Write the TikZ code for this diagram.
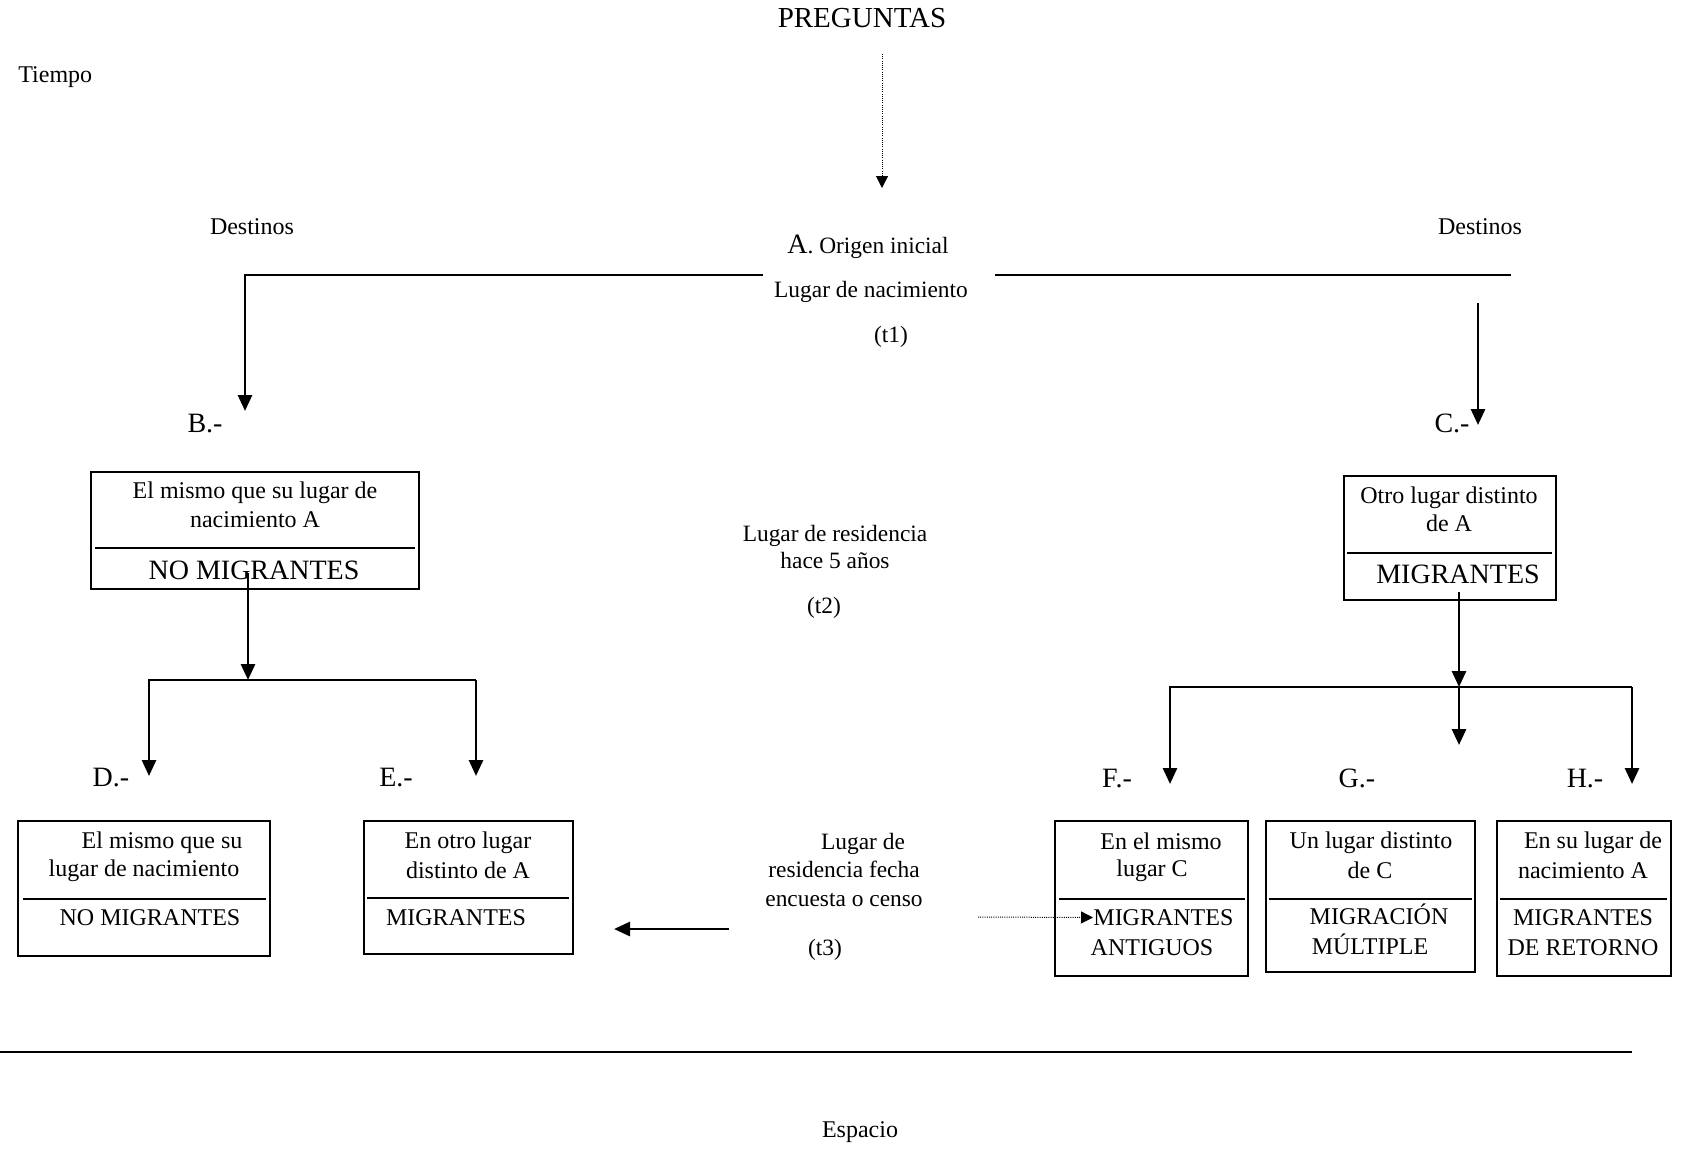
\documentclass[tikz,border=0pt]{standalone}
\usepackage{fontspec}
\setmainfont{Liberation Serif}
\usetikzlibrary{arrows.meta,fit}
\begin{document}
\begin{tikzpicture}[x=0.5pt,y=-0.5pt,
  t/.style={inner sep=0pt,yshift=-0.75pt,font=\fontsize{12}{13.8}\selectfont},
  tc/.style={inner sep=0pt,yshift=-0.75pt,font=\fontsize{11.7}{13.5}\selectfont},
  tb/.style={inner sep=0pt,yshift=-0.75pt,font=\fontsize{14}{16}\selectfont},
  boxst/.style={draw,line width=0.8pt,inner sep=0pt},
  divider/.style={line width=0.9pt},
  conn/.style={line width=1.4pt},
  arr/.style={conn,-{Triangle[length=8pt,width=7pt]}},
  dotarr/.style={line width=0.5pt,dash pattern=on 0.5pt off 0.6pt,-{Triangle[length=6pt,width=6pt]}}]
\useasboundingbox (0,0) rectangle (1685,1148);

% top labels
\node[inner sep=0pt,font=\fontsize{14.5}{16}\selectfont] (preg) at (862,18) {PREGUNTAS};
\node[t,anchor=west] (tiempo) at (18,76) {Tiempo};
\node[t] (destL) at (252,225) {Destinos};
\node[t] (destR) at (1480,225) {Destinos};
\node[tc] (origen) at (868,245) {{\fontsize{14}{16}\selectfont A}. Origen inicial};
\node[tc] (nacim) at (871,290) {Lugar de nacimiento};
\node[tc] (t1) at (891,335) {(t1)};

\coordinate (pregTop) at (882,54);
\coordinate (pregTip) at (882,188);
\draw[dotarr] (pregTop) -- (pregTip);

% level B / C
\node[tb] (labB) at (205,422) {B.-};
\node[tb] (labC) at (1452,422) {C.-};

\coordinate (Lend) at (763,275);
\coordinate (Lcorner) at (245,275);
\coordinate (Btip) at (245,411);
\draw[arr] (Lend) -- (Lcorner) -- (Btip);
\coordinate (Rstart) at (995,275);
\coordinate (Rend) at (1511,275);
\draw[conn] (Rstart) -- (Rend);
\coordinate (Ctop) at (1478,303);
\coordinate (Ctip) at (1478,425);
\draw[arr] (Ctop) -- (Ctip);

% box B
\node[boxst,fit={(91,472) (419,589)}] (boxB) {};
\draw[divider] (95,548) -- (415,548);
\node[t] (b1) at (255,491) {El mismo que su lugar de};
\node[t] (b2) at (255,518) {nacimiento A};
\node[tb] (b3) at (254,569) {NO MIGRANTES};

% box C
\node[boxst,fit={(1344,476) (1556,600)}] (boxC) {};
\draw[divider] (1347,553) -- (1552,553);
\node[t] (c1) at (1449,496) {Otro lugar distinto};
\node[t] (c2) at (1449,522) {de A};
\node[tb] (c3) at (1458,573) {MIGRANTES};

% middle labels
\node[tc] (res1) at (835,534) {Lugar de residencia};
\node[tc] (res2) at (835,559) {hace 5 años};
\node[tc] (t2) at (824,606) {(t2)};

% branches from B
\coordinate (Bsrc) at (248,573);
\coordinate (Bjoin) at (248,680);
\coordinate (Dcorner) at (149,680);
\coordinate (Ecorner) at (476,680);
\coordinate (Dtip) at (149,776);
\coordinate (Etip) at (476,776);
\draw[arr] (Bsrc) -- (Bjoin);
\draw[arr] (Ecorner) -- (Dcorner) -- (Dtip);
\draw[arr] (Ecorner) -- (Etip);

% branches from C
\coordinate (Csrc) at (1459,592);
\coordinate (Cjoin) at (1459,687);
\coordinate (Fcorner) at (1170,687);
\coordinate (Hcorner) at (1632,687);
\coordinate (Gtip) at (1459,745);
\coordinate (Ftip) at (1170,784);
\coordinate (Htip) at (1632,784);
\draw[arr] (Csrc) -- (Cjoin);
\draw[arr] (Hcorner) -- (Fcorner) -- (Ftip);
\draw[arr] (Hcorner) -- (Htip);
\draw[arr] (Cjoin) -- (Gtip);

% level labels
\node[tb] (labD) at (111,776) {D.-};
\node[tb] (labE) at (396,776) {E.-};
\node[tb] (labF) at (1117,777) {F.-};
\node[tb] (labG) at (1357,777) {G.-};
\node[tb] (labH) at (1585,777) {H.-};

% box D
\node[boxst,fit={(18,821) (270,956)}] (boxD) {};
\draw[divider] (23,899) -- (266,899);
\node[t] (d1) at (162,841) {El mismo que su};
\node[t] (d2) at (144,869) {lugar de nacimiento};
\node[t] (d3) at (150,916) {NO MIGRANTES};

% box E
\node[boxst,fit={(364,821) (573,954)}] (boxE) {};
\draw[divider] (367,898) -- (569,898);
\node[t] (e1) at (468,841) {En otro lugar};
\node[t] (e2) at (468,869) {distinto de A};
\node[t] (e3) at (456,916) {MIGRANTES};

% middle bottom labels
\node[tc] (f1m) at (863,842) {Lugar de};
\node[tc] (f2m) at (844,868) {residencia fecha};
\node[tc] (f3m) at (844,899) {encuesta o censo};
\node[tc] (t3) at (825,948) {(t3)};

\coordinate (LAstart) at (729,929);
\coordinate (LAtip) at (614,929);
\draw[arr] (LAstart) -- (LAtip);

% box F
\node[boxst,fit={(1055,821) (1248,976)}] (boxF) {};
\draw[divider] (1059,899) -- (1245,899);
\node[t] (fa) at (1161,840) {En el mismo};
\node[t] (fb) at (1152,869) {lugar C};
\node[t,anchor=west] (fc) at (1093,916) {MIGRANTES};
\node[t] (fd) at (1152,946) {ANTIGUOS};

\coordinate (DAstart) at (978,917);
\draw[dotarr] (DAstart) -- (fc.west);

% box G
\node[boxst,fit={(1266,821) (1475,972)}] (boxG) {};
\draw[divider] (1269,899) -- (1472,899);
\node[t] (ga) at (1371,841) {Un lugar distinto};
\node[t] (gb) at (1370,869) {de C};
\node[t] (gc) at (1379,913) {MIGRACIÓN};
\node[t] (gd) at (1370,943) {MÚLTIPLE};

% box H
\node[boxst,fit={(1497,821) (1671,976)}] (boxH) {};
\draw[divider] (1500,899) -- (1667,899);
\node[t] (ha) at (1593,841) {En su lugar de};
\node[t] (hb) at (1583,869) {nacimiento A};
\node[t] (hc) at (1583,916) {MIGRANTES};
\node[t] (hd) at (1583,946) {DE RETORNO};

% bottom axis
\coordinate (axL) at (0,1052);
\coordinate (axR) at (1632,1052);
\draw[line width=1pt] (axL) -- (axR);
\node[t] (espacio) at (860,1131) {Espacio};
\end{tikzpicture}
\end{document}
